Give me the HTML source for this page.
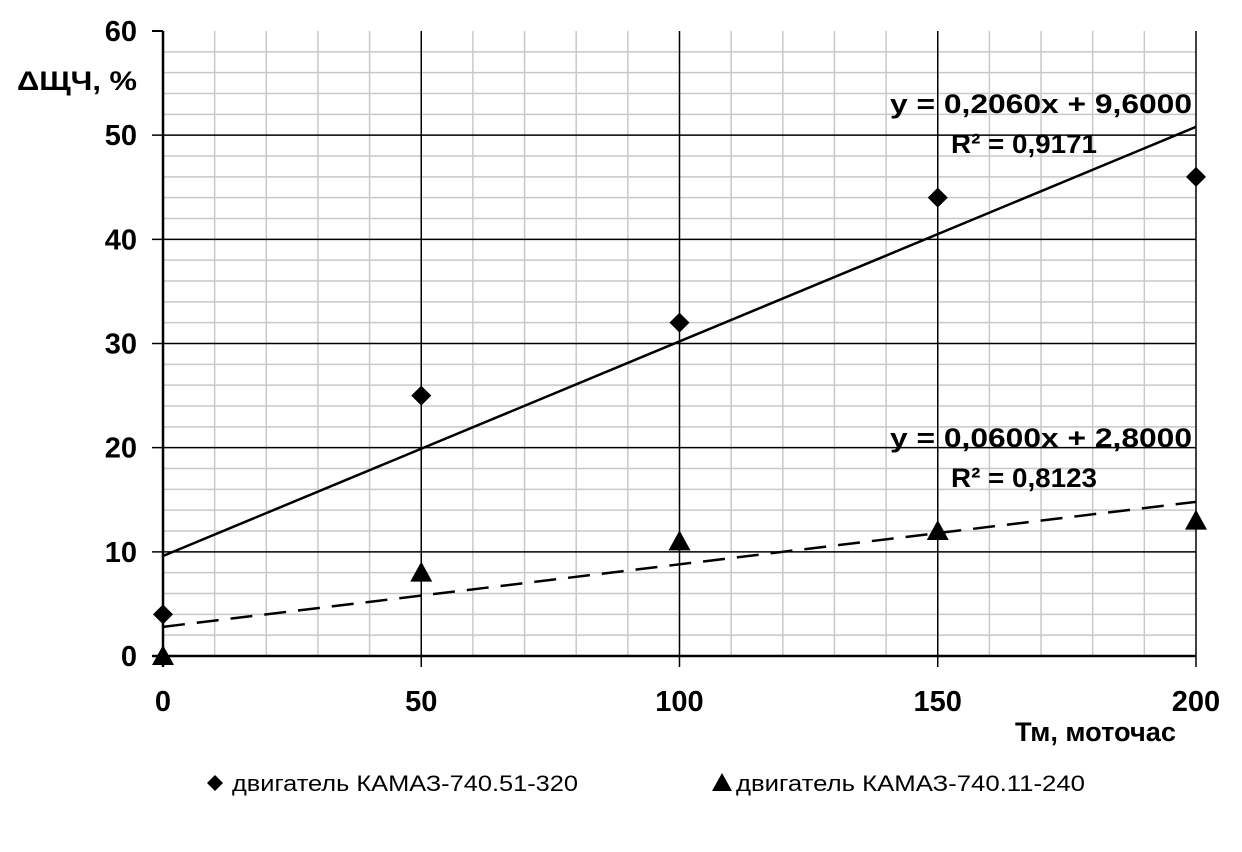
<!DOCTYPE html>
<html><head><meta charset="utf-8"><style>
body{margin:0;background:#fff;}
svg text{font-family:"Liberation Sans","DejaVu Sans",sans-serif;}
</style></head><body>
<svg id="chart" width="1242" height="847" xmlns="http://www.w3.org/2000/svg">
<g id="grid"></g>
<g id="axes"></g>
<g id="trend"></g>
<g id="marks"></g>
<text x="17" y="90" font-size="27" font-weight="bold" textLength="120" lengthAdjust="spacingAndGlyphs">ΔЩЧ, %</text>
<text x="1015" y="741" font-size="27" font-weight="bold" textLength="161" lengthAdjust="spacingAndGlyphs">Тм, моточас</text>
<text x="890" y="113" font-size="27" font-weight="bold" textLength="302" lengthAdjust="spacingAndGlyphs">y = 0,2060x + 9,6000</text>
<text x="951" y="153" font-size="27" font-weight="bold" textLength="146" lengthAdjust="spacingAndGlyphs">R² = 0,9171</text>
<text x="890" y="447" font-size="27" font-weight="bold" textLength="302" lengthAdjust="spacingAndGlyphs">y = 0,0600x + 2,8000</text>
<text x="951" y="487" font-size="27" font-weight="bold" textLength="146" lengthAdjust="spacingAndGlyphs">R² = 0,8123</text>
<g>
<g><path d="M215,775 l8,8 l-8,8 l-8,-8z" fill="#000"/><text x="232" y="791" font-size="22" textLength="346" lengthAdjust="spacingAndGlyphs">двигатель КАМАЗ-740.51-320</text></g>
<g><path d="M722,773 l10,18 h-20z" fill="#000"/><text x="736" y="791" font-size="22" textLength="349" lengthAdjust="spacingAndGlyphs">двигатель КАМАЗ-740.11-240</text></g>
</g>
</svg>
<script>
const xTicks=[0,50,100,150,200];
const yTicks=[0,10,20,30,40,50,60];
const xValues=[0,50,100,150,200];
const series1=[4,25,32,44,46];
const series2=[0,8,11,12,13];
const slope1=0.206, icpt1=9.6, slope2=0.06, icpt2=2.8;
const NS='http://www.w3.org/2000/svg';
const X=v=>163+v*(1196-163)/200;
const Y=v=>656-v*(656-31)/60;
function mk(tag,at,parent){const e=document.createElementNS(NS,tag);for(const k in at)e.setAttribute(k,at[k]);document.getElementById(parent).appendChild(e);return e;}
for(let v=10;v<=200;v+=10){if(v%50===0)continue;const l=mk('line',{x1:X(v),x2:X(v),y1:Y(60),y2:Y(0),stroke:'#c8c8c8','stroke-width':1.5},'grid');

}
for(let v=2;v<60;v+=2){if(v%10===0)continue;const l=mk('line',{x1:X(0),x2:X(200),y1:Y(v),y2:Y(v),stroke:'#c8c8c8','stroke-width':1.5},'grid');

}
yTicks.forEach(v=>{if(v>0&&v<60){const l=mk('line',{x1:152,x2:X(200),y1:Y(v),y2:Y(v),stroke:'#000','stroke-width':1.5},'grid');

}
const t=mk('text',{x:137,y:Y(v)+10,'font-size':29,'font-weight':'bold','text-anchor':'end'},'axes');t.textContent=v;

});
xTicks.forEach(v=>{if(v>0){const l=mk('line',{x1:X(v),x2:X(v),y1:Y(60),y2:Y(0)+11,stroke:'#000','stroke-width':1.5},'grid');

}
const t=mk('text',{x:X(v),y:711,'font-size':29,'font-weight':'bold','text-anchor':'middle'},'axes');t.textContent=v;

});
let a=mk('line',{x1:X(0),x2:X(0),y1:Y(60),y2:Y(0)+11,stroke:'#000','stroke-width':2.5},'axes');


a=mk('line',{x1:152,x2:X(200),y1:Y(0),y2:Y(0),stroke:'#000','stroke-width':2.5},'axes');


a=mk('line',{x1:152,x2:X(0),y1:Y(60),y2:Y(60),stroke:'#000','stroke-width':2},'axes');


let t1=mk('line',{x1:X(0),y1:Y(icpt1),x2:X(200),y2:Y(icpt1+slope1*200),stroke:'#000','stroke-width':2.5},'trend');


let t2=mk('line',{x1:X(0),y1:Y(icpt2),x2:X(200),y2:Y(icpt2+slope2*200),stroke:'#000','stroke-width':2.5,'stroke-dasharray':'22 12'},'trend');


xValues.forEach((x,i)=>{const cx=X(x),cy=Y(series1[i]);
const d=mk('path',{d:`M${cx},${cy-10} l10,10 l-10,10 l-10,-10z`,fill:'#000'},'marks');


const ty=Y(series2[i]);
const tr=mk('path',{d:`M${cx},${ty-11} l11,20 h-22z`,fill:'#000'},'marks');

});
</script>
</body></html>
